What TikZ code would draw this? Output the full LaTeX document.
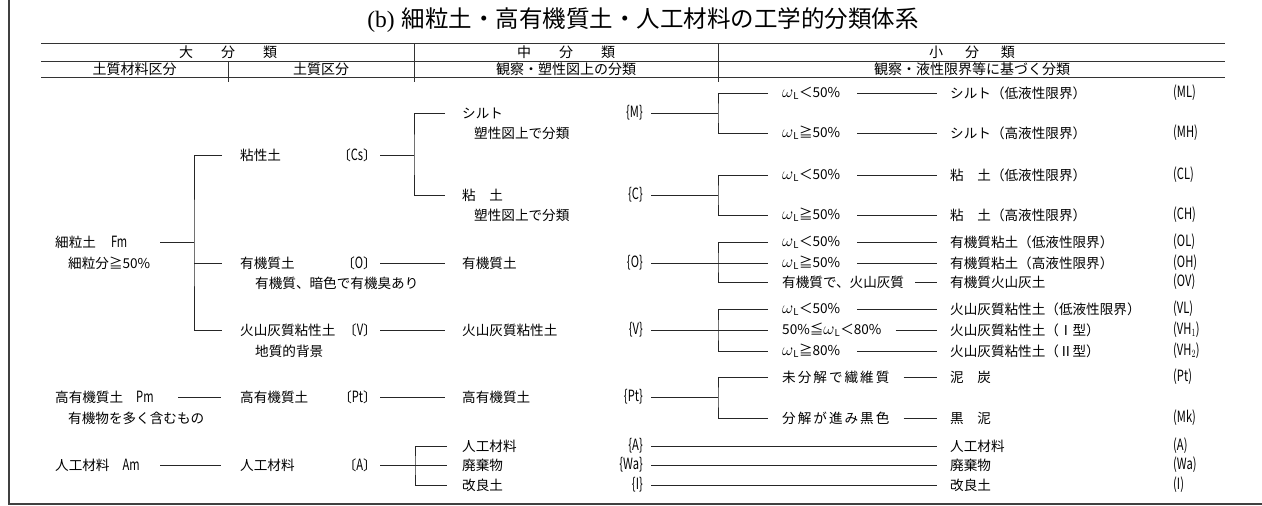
\documentclass[tikz,border=0pt]{standalone}
\usepackage{fontspec}
\setmainfont{Noto Sans CJK JP}
\newfontfamily\serifb{Liberation Serif}
\newcommand\fs{\fontsize{13.6pt}{15pt}\selectfont}
\newcommand\hfs{\fontsize{14pt}{16pt}\selectfont}
\newcommand\cd[1]{\scalebox{0.72}[1]{\fontsize{15.5pt}{17pt}\selectfont #1}}
\newcommand\wL{{\fontsize{16.5pt}{17pt}\selectfont$\omega$}$_{\mathrm{L}}$}
\newcommand\ls{\hspace{2pt}}
\begin{document}
\begin{tikzpicture}[x=1pt,y=-1pt,
  every node/.style={inner sep=0pt,font=\fs},
  tw/.style={anchor=west},
  te/.style={anchor=east},
  ln/.style={line width=0.8pt,draw=black!85},
  hl/.style={line width=1pt,draw=black!80},
  fr/.style={line width=1.8pt,draw=black!75},
  hd/.style={font=\hfs}]

\useasboundingbox (0,0) rectangle (1262,506);

% frame
\draw[fr] (9,0) -- (9,504) -- (1262,504);

% title
\node (title) at (643,20) {\fontsize{23.5pt}{26pt}\selectfont{\serifb (b)}\hspace{0.3em}細粒土・高有機質土・人工材料の工学的分類体系};

% header
\draw[hl] (41,43) -- (1225,43);
\draw[hl] (41,61) -- (1225,61);
\draw[hl] (41,77) -- (1225,77);
\draw[hl] (414,43) -- (414,82);
\draw[hl] (718,43) -- (718,82);
\draw[hl] (228,61) -- (228,82);
\node[hd] (h1) at (228,52) {大\hspace{28pt}分\hspace{28pt}類};
\node[hd] (h2) at (566,52) {中\hspace{28pt}分\hspace{28pt}類};
\node[hd] (h3) at (972,52) {小\hspace{22pt}分\hspace{22pt}類};
\node[hd] (h4) at (134.5,69) {土質材料区分};
\node[hd] (h5) at (321,69) {土質区分};
\node[hd] (h6) at (566,69) {観察・塑性図上の分類};
\node[hd] (h7) at (972,69) {観察・液性限界等に基づく分類};

% column A
\node[tw,text width=105pt,align=left] (fm) at (55,242) {細粒土\hspace{15pt}\cd{Fm}};
\node[tw] (fms) at (68,263) {細粒分≧50\%};
\node[tw,text width=123pt,align=left] (pm) at (55,397) {高有機質土\hspace{13pt}\cd{Pm}};
\node[tw] (pms) at (68,418) {有機物を多く含むもの};
\node[tw,text width=105pt,align=left] (am) at (55,465) {人工材料\hspace{13pt}\cd{Am}};

% column B
\node[tw] (cs) at (240,155) {粘性土};
\node[te] (csk) at (377,155) {〔\cd{Cs}〕};
\node[tw] (o) at (240,263) {有機質土};
\node[te] (ok) at (377,263) {〔\cd{O}〕};
\node[tw] (os) at (255,283) {有機質、暗色で有機臭あり};
\node[tw] (v) at (240,330) {火山灰質粘性土};
\node[te] (vk) at (377,330) {〔\cd{V}〕};
\node[tw] (vs) at (255,351) {地質的背景};
\node[tw] (pt) at (240,397) {高有機質土};
\node[te] (ptk) at (377,397) {〔\cd{Pt}〕};
\node[tw] (a) at (240,465) {人工材料};
\node[te] (ak) at (377,465) {〔\cd{A}〕};

% column C
\node[tw] (cM) at (462,113) {シルト};
\node[tw] (cMs) at (474,133) {塑性図上で分類};
\node[te] (kM) at (643,113) {\cd{\{M\}}};
\node[tw] (cC) at (462,195) {粘　土};
\node[tw] (cCs) at (474,215) {塑性図上で分類};
\node[te] (kC) at (643,195) {\cd{\{C\}}};
\node[tw] (cO) at (462,263) {有機質土};
\node[te] (kO) at (643,263) {\cd{\{O\}}};
\node[tw] (cV) at (462,330) {火山灰質粘性土};
\node[te] (kV) at (643,330) {\cd{\{V\}}};
\node[tw] (cPt) at (462,397) {高有機質土};
\node[te] (kPt) at (643,397) {\cd{\{Pt\}}};
\node[tw] (cA) at (462,446) {人工材料};
\node[te] (kA) at (643,446) {\cd{\{A\}}};
\node[tw] (cWa) at (462,465) {廃棄物};
\node[te] (kWa) at (643,465) {\cd{\{Wa\}}};
\node[tw] (cI) at (462,485) {改良土};
\node[te] (kI) at (643,485) {\cd{\{I\}}};

% column D
\node[tw] (dML) at (782,93) {\wL＜50\%};
\node[tw] (dMH) at (782,133) {\wL≧50\%};
\node[tw] (dCL) at (782,175) {\wL＜50\%};
\node[tw] (dCH) at (782,215) {\wL≧50\%};
\node[tw] (dOL) at (782,242) {\wL＜50\%};
\node[tw] (dOH) at (782,263) {\wL≧50\%};
\node[tw] (dOV) at (782,282) {有機質で、火山灰質};
\node[tw] (dVL) at (782,309) {\wL＜50\%};
\node[tw] (dVH1) at (782,330) {50\%≦\wL＜80\%};
\node[tw] (dVH2) at (782,351) {\wL≧80\%};
\node[tw] (dPt) at (782,377) {未\ls 分\ls 解\ls で\ls 繊\ls 維\ls 質};
\node[tw] (dMk) at (782,418) {分\ls 解\ls が\ls 進\ls み\ls 黒\ls 色};

% column E
\node[tw] (eML) at (950,93) {シルト（低液性限界）};
\node[tw] (eMH) at (950,133) {シルト（高液性限界）};
\node[tw] (eCL) at (950,175) {粘　土（低液性限界）};
\node[tw] (eCH) at (950,215) {粘　土（高液性限界）};
\node[tw] (eOL) at (950,242) {有機質粘土（低液性限界）};
\node[tw] (eOH) at (950,263) {有機質粘土（高液性限界）};
\node[tw] (eOV) at (950,282) {有機質火山灰土};
\node[tw] (eVL) at (950,309) {火山灰質粘性土（低液性限界）};
\node[tw] (eVH1) at (950,330) {火山灰質粘性土（Ⅰ型）};
\node[tw] (eVH2) at (950,351) {火山灰質粘性土（Ⅱ型）};
\node[tw] (ePt) at (950,377) {泥　炭};
\node[tw] (eMk) at (950,418) {黒　泥};
\node[tw] (eA) at (950,446) {人工材料};
\node[tw] (eWa) at (950,465) {廃棄物};
\node[tw] (eI) at (950,485) {改良土};

% codes
\node[tw] (zML) at (1173,93) {\cd{(ML)}};
\node[tw] (zMH) at (1173,133) {\cd{(MH)}};
\node[tw] (zCL) at (1173,175) {\cd{(CL)}};
\node[tw] (zCH) at (1173,215) {\cd{(CH)}};
\node[tw] (zOL) at (1173,242) {\cd{(OL)}};
\node[tw] (zOH) at (1173,263) {\cd{(OH)}};
\node[tw] (zOV) at (1173,282) {\cd{(OV)}};
\node[tw] (zVL) at (1173,309) {\cd{(VL)}};
\node[tw] (zVH1) at (1173,330) {\cd{(VH$_1$)}};
\node[tw] (zVH2) at (1173,351) {\cd{(VH$_2$)}};
\node[tw] (zPt) at (1173,377) {\cd{(Pt)}};
\node[tw] (zMk) at (1173,418) {\cd{(Mk)}};
\node[tw] (zA) at (1173,446) {\cd{(A)}};
\node[tw] (zWa) at (1173,465) {\cd{(Wa)}};
\node[tw] (zI) at (1173,485) {\cd{(I)}};

% junctions
\coordinate (j1) at (194,243);
\coordinate (j2) at (414,155);
\coordinate (j3) at (415,465);
\coordinate (jM) at (718,113);
\coordinate (jC) at (718,195);
\coordinate (jO) at (718,263);
\coordinate (jV) at (718,330);
\coordinate (jP) at (718,397);

% A -> B
\draw[ln] (fm.east) -- (fm.east -| j1);
\draw[ln,shorten <=18pt,shorten >=18pt] (cs.west) -| (j1) |- (v.west);
\draw[ln,shorten >=18pt] (j1 |- o.west) -- (o.west);
\draw[ln,shorten >=19pt] (pm.east) -- (pt.west);
\draw[ln,shorten >=19pt] (am.east) -- (a.west);

% B -> C
\draw[ln,shorten <=3pt] (csk.east) -- (j2);
\draw[ln,shorten <=17pt,shorten >=17pt] (cM.west) -| (j2) |- (cC.west);
\draw[ln,shorten <=3pt,shorten >=17pt] (ok.east) -- (cO.west);
\draw[ln,shorten <=3pt,shorten >=17pt] (vk.east) -- (cV.west);
\draw[ln,shorten <=3pt,shorten >=17pt] (ptk.east) -- (cPt.west);
\draw[ln,shorten <=3pt] (ak.east) -- (j3);
\draw[ln,shorten <=15pt,shorten >=15pt] (cA.west) -| (j3) |- (cI.west);
\draw[ln,shorten >=15pt] (j3) -- (cWa.west);

% C -> D
\draw[ln,shorten <=8pt] (kM.east) -- (jM);
\draw[ln,shorten <=14pt,shorten >=14pt] (dML.west) -| (jM) |- (dMH.west);
\draw[ln,shorten <=8pt] (kC.east) -- (jC);
\draw[ln,shorten <=14pt,shorten >=14pt] (dCL.west) -| (jC) |- (dCH.west);
\draw[ln,shorten <=8pt,shorten >=14pt] (kO.east) -- (dOH.west);
\draw[ln,shorten <=14pt,shorten >=14pt] (dOL.west) -| (jO) |- (dOV.west);
\draw[ln,shorten <=8pt,shorten >=14pt] (kV.east) -- (dVH1.west);
\draw[ln,shorten <=14pt,shorten >=14pt] (dVL.west) -| (jV) |- (dVH2.west);
\draw[ln,shorten <=8pt] (kPt.east) -- (jP);
\draw[ln,shorten <=14pt,shorten >=14pt] (dPt.west) -| (jP) |- (dMk.west);
\draw[ln,shorten <=8pt,shorten >=13pt] (kA.east) -- (eA.west);
\draw[ln,shorten <=8pt,shorten >=13pt] (kWa.east) -- (eWa.west);
\draw[ln,shorten <=8pt,shorten >=13pt] (kI.east) -- (eI.west);

% D -> E
\draw[ln,shorten <=17pt,shorten >=13pt] (dML.east) -- (eML.west);
\draw[ln,shorten <=17pt,shorten >=13pt] (dMH.east) -- (eMH.west);
\draw[ln,shorten <=17pt,shorten >=13pt] (dCL.east) -- (eCL.west);
\draw[ln,shorten <=17pt,shorten >=13pt] (dCH.east) -- (eCH.west);
\draw[ln,shorten <=17pt,shorten >=13pt] (dOL.east) -- (eOL.west);
\draw[ln,shorten <=17pt,shorten >=13pt] (dOH.east) -- (eOH.west);
\draw[ln,shorten <=11pt,shorten >=13pt] (dOV.east) -- (eOV.west);
\draw[ln,shorten <=17pt,shorten >=13pt] (dVL.east) -- (eVL.west);
\draw[ln,shorten <=14pt,shorten >=13pt] (dVH1.east) -- (eVH1.west);
\draw[ln,shorten <=17pt,shorten >=13pt] (dVH2.east) -- (eVH2.west);
\draw[ln,shorten <=14pt,shorten >=13pt] (dPt.east) -- (ePt.west);
\draw[ln,shorten <=14pt,shorten >=13pt] (dMk.east) -- (eMk.west);
\end{tikzpicture}
\end{document}
